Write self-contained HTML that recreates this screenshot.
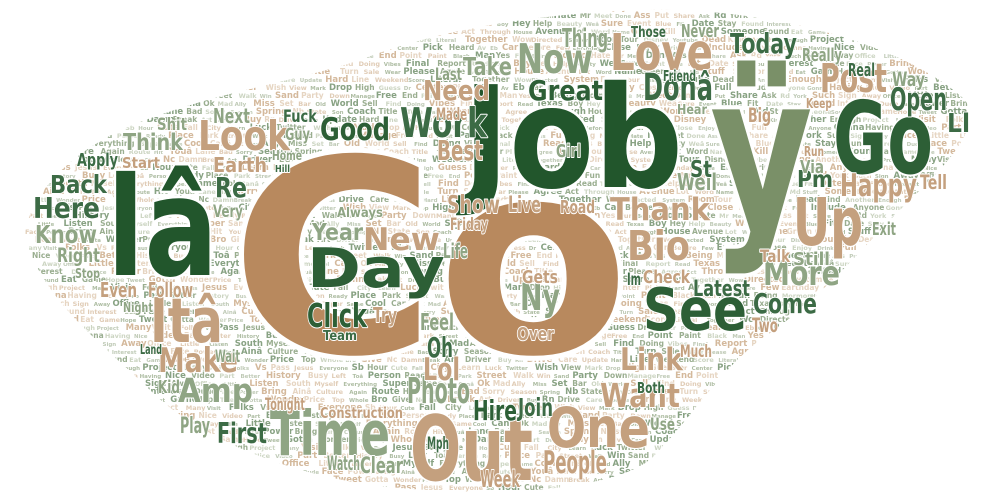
<!DOCTYPE html>
<html><head><meta charset="utf-8"><style>
html,body{margin:0;padding:0;background:#fff;}
svg{display:block;}
text{font-family:"DejaVu Sans","Liberation Sans",sans-serif;font-weight:bold;}
</style></head><body>
<svg id="wc" width="997" height="501" viewBox="0 0 997 501" xmlns="http://www.w3.org/2000/svg">
<defs>
<clipPath id="cloud"><path d="M25,235 C30,190 80,140 160,115 C230,90 300,80 360,60 C450,25 560,12 650,10 C760,8 900,40 965,100 C985,130 940,170 900,210 C860,250 820,300 760,340 C720,370 690,420 650,460 C600,495 480,495 400,488 C300,480 200,440 150,390 C110,350 40,300 25,235 Z"/></clipPath>
</defs>
<g id="filler" clip-path="url(#cloud)"></g>
<g id="big"></g>
</svg>
<script>
// words: text, left x, cap top y, baseline y, width, colour
const words = [
 ["Co",230,156,352,400,"#b8895e"],
 ["Job",463,84,187,220,"#22562c"],
 ["ÿ",710,70,227,103,"#7a9068"],
 ["lâ",107,175,275,111,"#22562c"],
 ["Go",833,100,173,100,"#2d5f36"],
 ["Up",793,197,245,70,"#c4a07e"],
 ["Day",307,247,287,138,"#2d5f36"],
 ["Out",410,414,480,123,"#c4a07e"],
 ["One",547,407,447,103,"#c4a07e"],
 ["Time",270,410,455,120,"#8fa584"],
 ["See",643,287,330,104,"#2d5f36"],
 ["Love",610,33,70,103,"#c4a07e"],
 ["Itâ",150,297,342,73,"#c4a07e"],
 ["Look",198,120,150,92,"#c4a07e"],
 ["Make",158,347,372,80,"#c4a07e"],
 ["Amp",178,378,402,75,"#8fa584"],
 ["Good",320,117,140,70,"#2d5f36"],
 ["Work",400,107,137,87,"#3c6b45"],
 ["Now",517,43,73,76,"#8fa584"],
 ["Take",463,57,75,49,"#8fa584"],
 ["Need",423,80,100,67,"#c4a07e"],
 ["Great",528,80,100,75,"#2d5f36"],
 ["Best",437,140,160,46,"#c4a07e"],
 ["Show",447,195,213,53,"#c4a07e"],
 ["Thing",562,28,47,46,"#8fa584"],
 ["New",363,227,250,77,"#c4a07e"],
 ["Year",312,223,240,51,"#8fa584"],
 ["Click",307,303,327,60,"#2d5f36"],
 ["Team",323,330,340,34,"#3c6b45"],
 ["Try",373,307,322,24,"#c4a07e"],
 ["Always",337,207,217,46,"#8fa584"],
 ["Photo",407,377,403,63,"#8fa584"],
 ["Hire",473,400,420,44,"#2d5f36"],
 ["Join",518,398,416,35,"#3c6b45"],
 ["People",543,450,473,64,"#c4a07e"],
 ["Clear",360,457,473,43,"#8fa584"],
 ["Ny",520,283,310,40,"#8fa584"],
 ["Gets",522,270,283,36,"#c4a07e"],
 ["Over",517,327,340,37,"#c4a07e"],
 ["Oh",427,337,357,26,"#3c6b45"],
 ["Lol",423,357,380,37,"#c4a07e"],
 ["Feel",420,313,330,34,"#8fa584"],
 ["Week",480,470,487,40,"#c4a07e"],
 ["First",217,422,443,50,"#3c6b45"],
 ["Construction",320,407,418,83,"#c4a07e"],
 ["Think",123,133,150,60,"#8fa584"],
 ["Next",213,108,123,37,"#8fa584"],
 ["Shit",157,118,130,30,"#8fa584"],
 ["Fuck",283,110,122,34,"#3c6b45"],
 ["Earth",213,157,172,54,"#c4a07e"],
 ["Start",122,157,168,38,"#c4a07e"],
 ["Re",215,177,197,32,"#3c6b45"],
 ["Very",213,205,217,30,"#8fa584"],
 ["Apply",77,153,166,41,"#3c6b45"],
 ["Back",50,175,193,57,"#3c6b45"],
 ["Here",33,197,218,67,"#3c6b45"],
 ["Know",35,225,243,62,"#8fa584"],
 ["Right",57,248,262,43,"#8fa584"],
 ["Stop",75,268,278,25,"#8fa584"],
 ["Even",100,282,297,37,"#c4a07e"],
 ["Follow",148,282,297,45,"#c4a07e"],
 ["Post",820,63,92,67,"#c4a07e"],
 ["Happy",840,173,196,77,"#c4a07e"],
 ["Open",890,87,110,57,"#3c6b45"],
 ["Today",730,33,53,67,"#3c6b45"],
 ["Donâ",643,73,100,70,"#3c6b45"],
 ["Thank",610,197,220,100,"#c4a07e"],
 ["Bio",627,230,260,63,"#c4a07e"],
 ["More",763,260,285,77,"#8fa584"],
 ["Come",753,293,313,64,"#3c6b45"],
 ["Link",620,347,370,63,"#c4a07e"],
 ["Want",600,383,407,80,"#c4a07e"],
 ["Latest",693,280,296,57,"#3c6b45"],
 ["Pm",797,170,187,36,"#3c6b45"],
 ["Well",677,173,190,40,"#8fa584"],
 ["Check",643,270,283,47,"#c4a07e"],
 ["Still",793,252,265,37,"#8fa584"],
 ["Talk",760,250,262,30,"#c4a07e"],
 ["Ll",947,113,132,23,"#3c6b45"],
 ["Tell",920,175,189,27,"#c4a07e"],
 ["Exit",872,222,235,24,"#8fa584"],
 ["Two",752,318,332,26,"#c4a07e"],
 ["Much",680,345,357,32,"#c4a07e"],
 ["Both",637,382,393,28,"#3c6b45"],
 ["Use",650,418,430,25,"#8fa584"],
 ["St",690,160,177,22,"#3c6b45"],
 ["Big",748,108,122,23,"#c4a07e"],
 ["Keep",806,98,108,26,"#c4a07e"],
 ["Way",892,72,86,33,"#8fa584"],
 ["Real",848,63,76,27,"#3c6b45"],
 ["Really",802,48,61,40,"#8fa584"],
 ["Never",681,24,37,38,"#8fa584"],
 ["Those",631,26,37,35,"#3c6b45"],
 ["Friend",663,70,81,33,"#3c6b45"],
 ["Hear",677,104,114,30,"#8fa584"],
 ["Via",800,160,173,24,"#8fa584"],
 ["Run",804,146,156,20,"#c4a07e"],
 ["Im",627,273,285,14,"#3c6b45"],
 ["Life",443,243,258,25,"#8fa584"],
 ["Live",508,196,212,33,"#c4a07e"],
 ["Road",560,200,213,35,"#c4a07e"],
 ["Friday",450,218,230,38,"#c4a07e"],
 ["Made",436,108,120,31,"#c4a07e"],
 ["Last",435,68,80,27,"#8fa584"],
 ["Girl",556,144,157,25,"#8fa584"],
 ["Mph",427,437,449,22,"#3c6b45"],
 ["Watch",327,456,470,33,"#8fa584"],
 ["Play",180,417,433,30,"#8fa584"],
 ["Kid",158,380,393,22,"#8fa584"],
 ["Wait",215,350,362,25,"#8fa584"],
 ["Land",140,344,354,22,"#3c6b45"],
 ["Night",123,302,312,30,"#8fa584"],
 ["Guy",285,128,140,25,"#8fa584"],
 ["Home",272,150,160,30,"#8fa584"],
 ["Hill",275,165,172,15,"#3c6b45"],
 ["Tonight",265,398,410,40,"#c4a07e"]
];
// small filler vocabulary
const fillerWords = ["Sb","Hour","Cute","Fall","City","Learn","Luck","Twitter","Wish","View","Mark","Drop","High","Guess","Dr","Center","Pick","Heard","Av","Eb","Car","Before","Few","Earthday","Close","Enjoy","Drink","Full","Include","Anyone","Gonna","Having","Nice","Video","Part","Better","History","Busy","Left","Toâ","Person","Ready","Place","Park","Street","Walk","Win","Sand","Party","Down","Manage","Free","End","Point","Paint","Black","Man","Yes","Fun","Being","Mormon","Hate","Mr","Meet","Done","Ass","Put","Share","Ask","Rd","York","Such","Sign","Away","Office","Little","Listen","South","Myself","Everything","Super","Same","Cool","Canâ","Ok","Mad","Ally","Miss","Set","Bar","Old","World","Sell","Find","Doing","Vibes","Final","Report","Read","Texas","Boy","Hey","Help","Beauty","Weâ","Sure","Event","Blue","Fit","Date","Stay","Found","Interest","Dude","Face","Power","Bring","Ainâ","Culture","Again","Route","Hit","Youâ","Lane","Bad","Sorry","Season","Spring","Nb","State","Son","Coach","Title","Turn","Sale","Wear","Please","Agree","Act","Through","House","Avenue","Lot","Word","Name","Green","Kill","Md","Stuff","Someone","Sound","Eat","Game","Hope","Tweet","Gotta","Wonder","Price","Top","Whole","Bro","Give","Nc","Damn","Break","Art","Driver","Buy","Rn","Drive","Care","Update","Hard","Line","Weekend","Score","Literal","Together","Wow","Directed","System","Room","Tour","Disney","Youtube","Dead","Kind","Another","Enough","Project","Many","Visit","Folks","Vs","Pass","Jesus","Everyone"];
const fillerColors = ["#bfcab6","#e0ccb6","#9aae90","#d4b99c","#aebda3","#ccd5c2","#e6d5c2","#88a283"];

const NS = "http://www.w3.org/2000/svg";
const fillG = document.getElementById("filler");
let k = 0;
for (let y = 10; y < 500; y += 8) {
  let x = 20 + ((y * 7) % 23);
  while (x < 980) {
    const w = fillerWords[k % fillerWords.length];
    const fs = 5.5 + (k * 3 % 4);
    const t = document.createElementNS(NS, "text");
    
    
    t.setAttribute("x", x);
    t.setAttribute("y", y);
    t.setAttribute("font-size", fs);
    t.setAttribute("fill", fillerColors[(k * 3) % fillerColors.length]);
    t.textContent = w;
    fillG.appendChild(t);
    x += w.length * fs * 0.62 + 5;
    k++;
  }
}

const bigG = document.getElementById("big");
const BASE = 50;
words.forEach(function (d) {
  const capH = d[3] - d[2];
  const fs = capH / 0.73;
  const sy = fs / BASE;
  const g = document.createElementNS(NS, "g");
  
  
  const t = document.createElementNS(NS, "text");
  
  
  t.setAttribute("x", 0);
  t.setAttribute("y", 0);
  t.setAttribute("font-size", BASE);
  t.setAttribute("fill", d[5]);
  t.setAttribute("stroke", "#fff");
  t.setAttribute("stroke-linejoin", "round");
  t.setAttribute("paint-order", "stroke");
  t.textContent = d[0];
  g.appendChild(t);
  bigG.appendChild(g);
  const w0 = t.getComputedTextLength() || (d[4] / sy);
  const sx = d[4] / w0;
  t.setAttribute("stroke-width", (Math.max(2, fs * 0.04) / Math.max(sx, sy)).toFixed(2));
  g.setAttribute("transform", "translate(" + d[1] + "," + d[3] + ") scale(" + sx.toFixed(4) + "," + sy.toFixed(4) + ")");
});
</script>
</body></html>
